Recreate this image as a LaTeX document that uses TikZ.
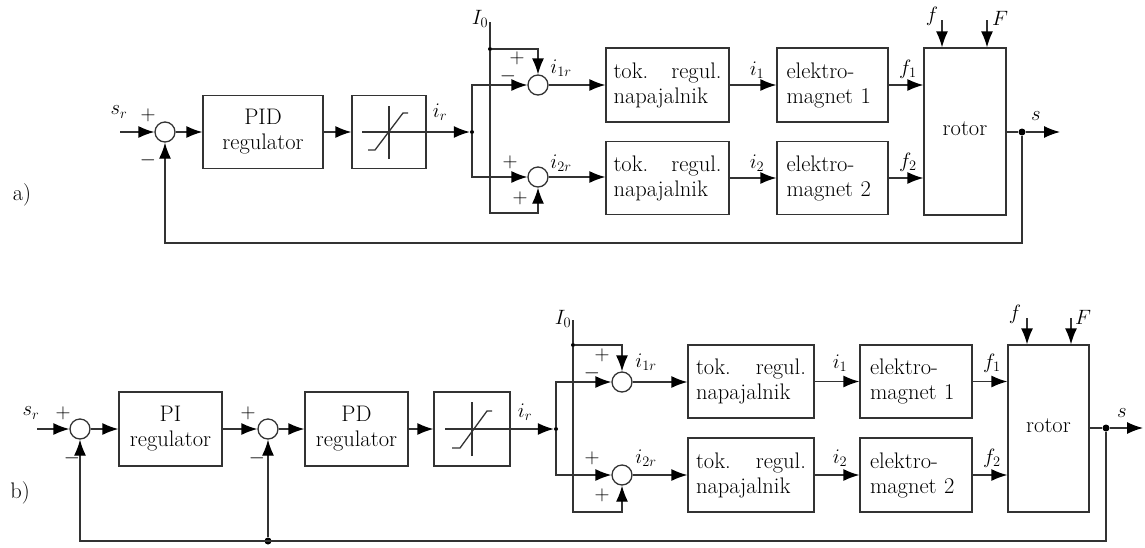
\documentclass[tikz,border=0pt]{standalone}
\usetikzlibrary{arrows.meta}
\begin{document}
\begin{tikzpicture}[x=1pt,y=-1pt,
  font=\fontsize{22.5}{25}\selectfont,
  blk/.style={draw=black!80, line width=1.3pt, rectangle, inner sep=0pt, align=center},
  sumc/.style={draw=black!80, line width=1.3pt, circle, minimum size=20pt, inner sep=0pt},
  arr/.style={draw=black!80, line width=1.3pt, -{Latex[length=16pt,width=12pt,color=black]}},
  ln/.style={draw=black!80, line width=1.3pt},
  lbl/.style={inner sep=0pt, text=black},
  dotn/.style={circle, fill=black, inner sep=0pt, minimum size=#1}]
\useasboundingbox (0,0) rectangle (1145,547);

% ================= a) =================
\node[lbl] (la) at (22,195) {a)};
\coordinate (sra) at (120,132);
\node[sumc] (sa1) at (165,132) {};
\node[blk, minimum width=120pt, minimum height=73pt] (pida) at (263,132) {PID\\regulator};
\node[blk, minimum width=74pt, minimum height=73pt] (sata) at (389,132) {};
\draw[ln] ([xshift=-27pt]sata.center) -- (sata.east);
\draw[ln] ([yshift=-27pt]sata.center) -- ([yshift=26pt]sata.center);
\draw[ln] ([shift={(-21pt,-18pt)}]sata.center) -- ++(7pt,0) -- ++(28pt,37pt) -- ++(5pt,0);
\node[dotn=4pt] (ja) at (472,132) {};
\node[sumc] (c1a) at (538,85) {};
\node[sumc] (c2a) at (538,177) {};
\coordinate (I0ta) at (490,22);
\node[dotn=4pt] (I0da) at (490,49) {};
\coordinate (I0ba) at (490,213);
\node[blk, minimum width=123pt, minimum height=74pt, text width=108pt, align=left] (ta1) at (667.5,85) {tok.\hfill regul.\\napajalnik};
\node[blk, minimum width=123pt, minimum height=73pt, text width=108pt, align=left] (ta2) at (667.5,178) {tok.\hfill regul.\\napajalnik};
\node[blk, minimum width=111pt, minimum height=74pt, text width=92pt, align=left] (ea1) at (832.5,85) {elektro-\\magnet 1};
\node[blk, minimum width=111pt, minimum height=73pt, text width=92pt, align=left] (ea2) at (832.5,178) {elektro-\\magnet 2};
\node[blk, minimum width=82pt, minimum height=167pt] (rota) at (965,131.5) {\raisebox{6pt}{rotor}};
\coordinate (fda) at (942,20);
\coordinate (Fda) at (987,20);
\node[dotn=7pt] (dsa) at (1022,132) {};
\coordinate (outa) at (1060,132);
\coordinate (fba) at (1022,243);

\draw[arr] (sra) -- (sa1);
\draw[arr] (sa1) -- (pida);
\draw[arr] (pida) -- (sata);
\draw[arr] (sata.east) -- (ja);
\draw[arr] (ja) |- (c1a);
\draw[arr] (ja) |- (c2a);
\draw[ln] (I0ta) -- (I0da);
\draw[arr] (I0da) -| (c1a);
\draw[arr] (I0da) -- (I0ba) -| (c2a);
\draw[arr] (c1a) -- (ta1);
\draw[arr] (c2a) -- (c2a -| ta2.west);
\draw[arr] (ta1) -- (ea1);
\draw[arr] (ta2) -- (ea2);
\draw[arr] (ea1.east) -- (ea1.east -| rota.west);
\draw[arr] (ea2.east) -- (ea2.east -| rota.west);
\draw[arr] (fda) -- (fda |- rota.north);
\draw[arr] (Fda) -- (Fda |- rota.north);
\draw[ln] (rota.east |- dsa) -- (dsa);
\draw[arr] (dsa) -- (outa);
\draw[arr] (dsa) -- (fba) -| (sa1);

\node[lbl] at (119,112) {$s_r$};
\node[lbl] at (148,115) {$+$};
\node[lbl] at (148,160) {$-$};
\node[lbl] at (440,112) {$i_r$};
\node[lbl] at (480,19) {$I_0$};
\node[lbl] at (517,58) {$+$};
\node[lbl] at (508,76) {$-$};
\node[lbl] at (561,68) {$i_{1r}$};
\node[lbl] at (510,162) {$+$};
\node[lbl] at (520,198) {$+$};
\node[lbl] at (561,163) {$i_{2r}$};
\node[lbl] at (757,70) {$i_1$};
\node[lbl] at (757,163) {$i_2$};
\node[lbl] at (908,69) {$f_1$};
\node[lbl] at (908,162) {$f_2$};
\node[lbl] at (932,16) {$f$};
\node[lbl] at (1000,18) {$F$};
\node[lbl] at (1036,116) {$s$};

% ================= b) =================
\node[lbl] (lb) at (20,493) {b)};
\coordinate (srb) at (37,429);
\node[sumc] (sb1) at (80,429) {};
\node[blk, minimum width=103pt, minimum height=74pt] (pib) at (170.5,429) {PI\\regulator};
\node[sumc] (sb2) at (268,429) {};
\node[blk, minimum width=103pt, minimum height=74pt] (pdb) at (356.5,429) {PD\\regulator};
\node[blk, minimum width=76pt, minimum height=74pt] (satb) at (472,429) {};
\draw[ln] ([xshift=-27pt]satb.center) -- (satb.east);
\draw[ln] ([yshift=-27pt]satb.center) -- ([yshift=27pt]satb.center);
\draw[ln] ([shift={(-20pt,-19pt)}]satb.center) -- ++(8pt,0) -- ++(27pt,37pt) -- ++(5pt,0);
\node[dotn=4pt] (jb) at (556,429) {};
\node[sumc] (c1b) at (622,382) {};
\node[sumc] (c2b) at (622,475) {};
\coordinate (I0tb) at (573,320);
\node[dotn=4pt] (I0db) at (573,345) {};
\coordinate (I0bb) at (573,512);
\node[blk, minimum width=126pt, minimum height=73pt, text width=110pt, align=left] (tb1) at (751,381.5) {tok.\hfill regul.\\napajalnik};
\node[blk, minimum width=126pt, minimum height=74pt, text width=110pt, align=left] (tb2) at (751,475) {tok.\hfill regul.\\napajalnik};
\node[blk, minimum width=112pt, minimum height=73pt, text width=92pt, align=left] (eb1) at (916,381.5) {elektro-\\magnet 1};
\node[blk, minimum width=112pt, minimum height=74pt, text width=92pt, align=left] (eb2) at (916,475) {elektro-\\magnet 2};
\node[blk, minimum width=81pt, minimum height=167pt] (rotb) at (1048.5,428.5) {\raisebox{6pt}{rotor}};
\coordinate (fdb) at (1027,318);
\coordinate (Fdb) at (1071,318);
\node[dotn=7pt] (dsb) at (1106,428) {};
\coordinate (outb) at (1143,428);
\coordinate (fbb) at (1106,541);
\node[dotn=7pt] (dfb) at (268,541) {};

\draw[arr] (srb) -- (sb1);
\draw[arr] (sb1) -- (pib);
\draw[arr] (pib) -- (sb2);
\draw[arr] (sb2) -- (pdb);
\draw[arr] (pdb) -- (satb);
\draw[arr] (satb.east) -- (jb);
\draw[arr] (jb) |- (c1b);
\draw[arr] (jb) |- (c2b);
\draw[ln] (I0tb) -- (I0db);
\draw[arr] (I0db) -| (c1b);
\draw[arr] (I0db) -- (I0bb) -| (c2b);
\draw[arr] (c1b) -- (c1b -| tb1.west);
\draw[arr] (c2b) -- (tb2);
\draw[arr] (tb1) -- (eb1);
\draw[arr] (tb2) -- (eb2);
\draw[arr] (eb1.east) -- (eb1.east -| rotb.west);
\draw[arr] (eb2.east) -- (eb2.east -| rotb.west);
\draw[arr] (fdb) -- (fdb |- rotb.north);
\draw[arr] (Fdb) -- (Fdb |- rotb.north);
\draw[ln] (rotb.east |- dsb) -- (dsb);
\draw[arr] (dsb) -- (outb);
\draw[arr] (dsb) -- (fbb) -| (sb1);
\draw[arr] (dfb) -- (sb2);

\node[lbl] at (31,413) {$s_r$};
\node[lbl] at (63,413) {$+$};
\node[lbl] at (72,458) {$-$};
\node[lbl] at (248,413) {$+$};
\node[lbl] at (257,458) {$-$};
\node[lbl] at (525,412) {$i_r$};
\node[lbl] at (563,319) {$I_0$};
\node[lbl] at (602,355) {$+$};
\node[lbl] at (592,373) {$-$};
\node[lbl] at (646,362) {$i_{1r}$};
\node[lbl] at (592,458) {$+$};
\node[lbl] at (602,495) {$+$};
\node[lbl] at (646,458) {$i_{2r}$};
\node[lbl] at (840,363) {$i_1$};
\node[lbl] at (840,458) {$i_2$};
\node[lbl] at (992,363) {$f_1$};
\node[lbl] at (992,458) {$f_2$};
\node[lbl] at (1015,314) {$f$};
\node[lbl] at (1083,317) {$F$};
\node[lbl] at (1122,413) {$s$};
\end{tikzpicture}
\end{document}
